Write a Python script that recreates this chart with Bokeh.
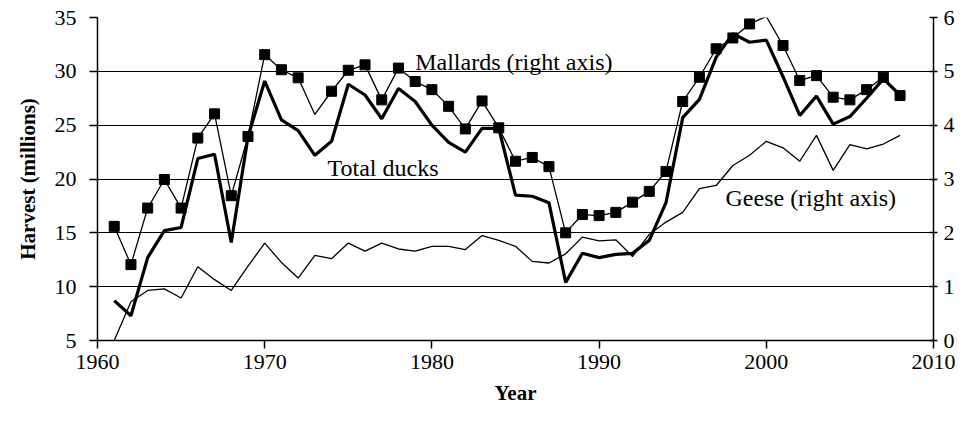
from bokeh.plotting import figure
from bokeh.models import Range1d, LinearAxis, FixedTicker, Label, ColumnDataSource
from bokeh.embed import file_html
from bokeh.resources import INLINE

FONT = "Liberation Serif"

years = list(range(1961, 2009))

total_ducks = [8.7, 7.3, 12.7, 15.2, 15.5, 21.9, 22.3, 14.1, 23.9, 29.1,
               25.5, 24.5, 22.2, 23.5, 28.8, 27.8, 25.6, 28.4, 27.2, 25.0,
               23.4, 22.5, 24.7, 24.7, 18.5, 18.4, 17.8, 10.4, 13.1, 12.7,
               13.0, 13.1, 14.3, 17.8, 25.7, 27.4, 31.3, 33.5, 32.7, 32.9,
               29.5, 25.9, 27.7, 25.1, 25.8, 27.5, 29.3, 27.8]

mallards = [2.12, 1.41, 2.46, 2.99, 2.46, 3.76, 4.21, 2.69, 3.79, 5.31,
            5.03, 4.88, 4.20, 4.63, 5.02, 5.12, 4.47, 5.06, 4.81, 4.66,
            4.35, 3.93, 4.45, 3.95, 3.33, 3.40, 3.23, 2.00, 2.34, 2.32,
            2.38, 2.57, 2.77, 3.14, 4.44, 4.89, 5.42, 5.62, 5.88, 6.02,
            5.48, 4.83, 4.92, 4.52, 4.47, 4.66, 4.89, 4.55]

geese = [0.0, 0.72, 0.93, 0.96, 0.79, 1.37, 1.13, 0.93, 1.38, 1.81,
         1.45, 1.16, 1.58, 1.52, 1.81, 1.66, 1.81, 1.70, 1.66, 1.75,
         1.75, 1.69, 1.95, 1.86, 1.75, 1.47, 1.44, 1.61, 1.92, 1.85,
         1.87, 1.56, 1.97, 2.20, 2.38, 2.82, 2.88, 3.25, 3.44, 3.70,
         3.58, 3.33, 3.81, 3.16, 3.64, 3.56, 3.65, 3.81]

mallard_no_marker_years = [1973, 2000]

x_ticks = [1960, 1970, 1980, 1990, 2000, 2010]
left_ticks = [5, 10, 15, 20, 25, 30, 35]
right_ticks = [0, 1, 2, 3, 4, 5, 6]

p = figure(width=968, height=436,
           x_range=Range1d(1960, 2010), y_range=Range1d(5, 35),
           output_backend="svg", toolbar_location=None,
           min_border_left=97, min_border_right=35,
           min_border_top=17, min_border_bottom=96)
p.extra_y_ranges = {"right": Range1d(0, 6)}
p.outline_line_color = None
p.background_fill_color = "white"
p.border_fill_color = "white"

p.xgrid.visible = False
p.ygrid.ticker = FixedTicker(ticks=left_ticks)
p.ygrid.grid_line_color = "black"
p.ygrid.grid_line_width = 1.2

right_axis = LinearAxis(y_range_name="right", ticker=FixedTicker(ticks=right_ticks))
p.add_layout(right_axis, "right")

p.xaxis.ticker = FixedTicker(ticks=x_ticks)
p.yaxis[0].ticker = FixedTicker(ticks=left_ticks)

for ax in [p.xaxis[0], p.yaxis[0], right_axis]:
    ax.axis_line_color = "black"
    ax.axis_line_width = 1.5
    ax.major_tick_line_color = "black"
    ax.major_tick_line_width = 1.5
    ax.minor_tick_line_color = None
    ax.major_tick_out = 8
    ax.major_tick_in = 0
    ax.major_label_text_font = FONT
    ax.major_label_text_font_size = "22px"
    ax.major_label_text_color = "black"
    ax.axis_label_text_font = FONT
    ax.axis_label_text_font_size = "21px"
    ax.axis_label_text_font_style = "bold"
    ax.axis_label_text_color = "black"

right_axis.major_tick_in = 4
right_axis.major_tick_out = 4
right_axis.major_label_standoff = 6

p.yaxis[0].axis_label = "Harvest (millions)"
p.yaxis[0].major_label_standoff = 13
p.yaxis[0].axis_label_standoff = 12
p.xaxis[0].axis_label = "Year"
p.xaxis[0].major_label_standoff = 6
p.xaxis[0].axis_label_standoff = 9

src = ColumnDataSource(dict(year=years, total=total_ducks, mallards=mallards, geese=geese))
p.line("year", "geese", source=src, y_range_name="right", line_color="black", line_width=1.3)
p.line("year", "total", source=src, line_color="black", line_width=3.2)
p.line("year", "mallards", source=src, y_range_name="right", line_color="black", line_width=1.3)

mk_years = [y for y in years if y not in mallard_no_marker_years]
mk_vals = [m for y, m in zip(years, mallards) if y not in mallard_no_marker_years]
p.scatter(mk_years, mk_vals, y_range_name="right", marker="square", size=10,
          fill_color="black", line_color="black")

for txt, x, y in [("Mallards (right axis)", 1979.0, 30.85),
                  ("Total ducks", 1973.76, 20.98),
                  ("Geese (right axis)", 1997.56, 18.22)]:
    p.add_layout(Label(x=x, y=y, text=txt, text_font=FONT, text_font_size="24px",
                       text_color="black", text_baseline="alphabetic", text_align="left"))

open("out.html", "w").write(file_html(p, INLINE))
